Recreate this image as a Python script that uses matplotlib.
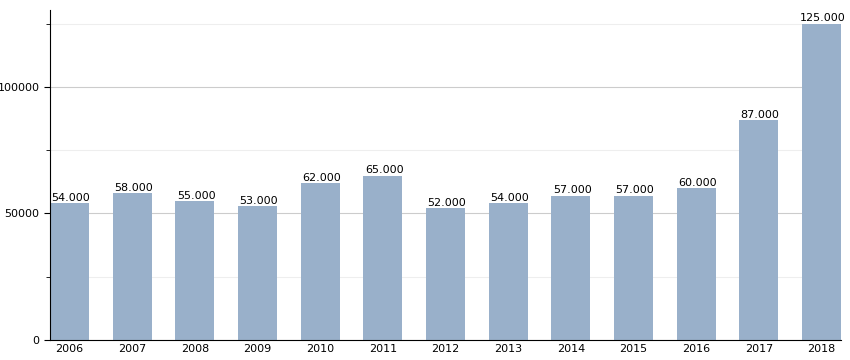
import matplotlib
matplotlib.use("Agg")
import matplotlib.pyplot as plt
from matplotlib.ticker import MultipleLocator

years = ["2006", "2007", "2008", "2009", "2010", "2011", "2012",
         "2013", "2014", "2015", "2016", "2017", "2018"]
values = [54000, 58000, 55000, 53000, 62000, 65000, 52000,
          54000, 57000, 57000, 60000, 87000, 125000]
labels = ["54.000", "58.000", "55.000", "53.000", "62.000", "65.000", "52.000",
          "54.000", "57.000", "57.000", "60.000", "87.000", "125.000"]

fig = plt.figure(figsize=(8.5, 3.6), dpi=100)
ax = fig.add_axes([50 / 850, 20 / 360, 791 / 850, 330 / 360])

x = range(len(years))
ax.bar(x, values, width=0.62, color="#99b0ca", zorder=2)
for i, v in enumerate(values):
    ax.text(i + 0.02, v + 100, labels[i], ha="center", va="bottom", fontsize=8, zorder=3)

ax.set_xlim(-0.31, len(years) - 1 + 0.31)
ax.set_ylim(0, 130400)
ax.set_xticks(list(x))
ax.set_xticklabels(years, fontsize=8)
ax.tick_params(axis="x", length=0, pad=3)
ax.yaxis.set_major_locator(MultipleLocator(50000))
ax.yaxis.set_minor_locator(MultipleLocator(25000))
ax.tick_params(axis="y", which="major", length=4, labelsize=8)
ax.tick_params(axis="y", which="minor", length=3)
ax.grid(axis="y", which="major", color="#cccccc", linewidth=0.8, zorder=0)
ax.grid(axis="y", which="minor", color="#eeeeee", linewidth=0.8, zorder=0)

for s in ["top", "right"]:
    ax.spines[s].set_visible(False)

fig.savefig("out.png", dpi=100)
